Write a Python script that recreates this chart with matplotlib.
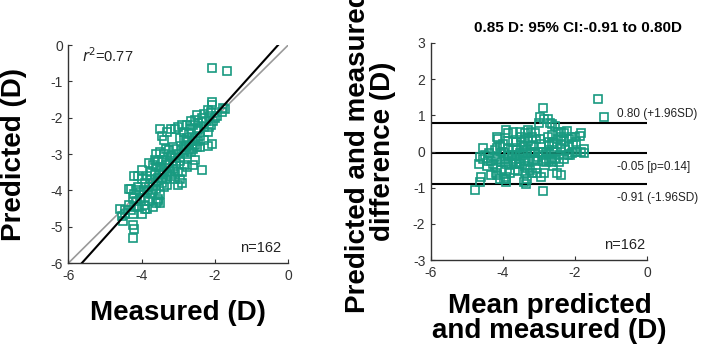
import numpy as np
import matplotlib
matplotlib.use("Agg")
import matplotlib.pyplot as plt

plt.rcParams['font.family'] = ['Liberation Sans', 'DejaVu Sans']
plt.rcParams['axes.unicode_minus'] = False

# measured / predicted refraction (D)
measured = [
    -2.08, -1.68, -2.08, -2.08, -1.78, -1.82, -1.72, -2.10, -2.20, -2.05,
    -2.15, -2.25, -2.30, -2.08, -2.20, -2.40, -2.50, -2.55, -2.45, -2.35,
    -2.60, -2.65, -2.75, -2.90, -2.85, -2.70, -2.55, -2.45, -2.50, -2.60,
    -2.70, -2.80, -2.95, -3.00, -3.10, -3.20, -3.30, -3.50, -3.45, -3.40,
    -2.35, -2.55, -2.60, -2.75, -2.85, -2.95, -3.05, -2.90, -2.90, -3.00,
    -3.10, -3.20, -3.25, -3.15, -3.00, -3.05, -3.15, -3.25, -3.35, -3.40,
    -3.50, -3.45, -3.55, -3.60, -3.70, -3.80, -3.50, -3.40, -3.35, -3.45,
    -3.55, -3.65, -3.75, -3.60, -3.80, -3.90, -4.00, -4.10, -4.00, -3.70,
    -3.75, -3.85, -3.95, -4.05, -4.15, -4.20, -4.30, -4.25, -4.15, -4.05,
    -3.90, -3.80, -3.70, -3.60, -3.55, -3.50, -3.55, -3.90, -4.00, -4.20,
    -4.30, -4.35, -4.45, -4.60, -4.55, -4.50, -4.45, -4.25, -4.25, -4.20,
    -4.25, -3.30, -3.25, -3.10, -2.95, -2.85, -2.75, -2.65, -2.55, -2.40,
    -2.30, -2.20, -2.10, -2.00, -1.95, -2.30, -2.15, -2.45, -2.60, -2.70,
    -2.80, -2.90, -3.00, -3.10, -2.95, -3.20, -3.30, -3.35, -3.45, -3.50,
    -3.65, -3.60, -3.75, -3.85, -3.70, -3.60, -3.50, -3.40, -3.30, -4.10,
    -4.20, -4.35, -3.95, -3.85, -4.10, -3.45, -3.55, -2.65, -2.50, -2.75,
    -2.85, -3.15,
]
predicted = [
    -0.62, -0.72, -1.57, -1.65, -1.72, -1.83, -1.75, -1.85, -1.80, -2.10,
    -2.25, -2.10, -2.25, -2.72, -2.78, -2.50, -1.92, -2.05, -2.15, -2.00,
    -2.20, -2.30, -2.20, -2.20, -2.40, -2.45, -2.55, -2.65, -2.80, -2.85,
    -2.75, -2.65, -2.55, -2.25, -2.30, -2.30, -2.40, -2.30, -2.50, -2.60,
    -3.45, -3.15, -3.30, -3.35, -3.30, -3.20, -3.25, -3.50, -3.80, -3.85,
    -3.70, -3.60, -3.50, -3.40, -3.00, -2.85, -2.80, -2.90, -2.85, -3.00,
    -2.95, -3.15, -3.20, -3.35, -3.30, -3.25, -3.35, -3.50, -3.70, -3.80,
    -3.65, -3.55, -3.70, -3.85, -3.90, -3.80, -3.70, -3.60, -3.45, -4.00,
    -4.10, -4.05, -4.00, -4.05, -4.00, -4.10, -3.95, -4.20, -4.30, -4.25,
    -4.20, -4.30, -4.45, -4.35, -4.30, -4.35, -4.25, -4.50, -4.65, -4.45,
    -4.55, -4.40, -4.55, -4.50, -4.70, -4.85, -4.65, -4.65, -4.95, -5.05,
    -5.30, -3.55, -3.25, -3.10, -3.10, -2.95, -3.00, -2.95, -2.75, -2.80,
    -2.60, -2.40, -2.20, -2.00, -1.95, -1.90, -1.95, -2.35, -2.60, -2.90,
    -2.80, -2.90, -3.50, -3.55, -3.70, -3.05, -3.15, -3.30, -3.45, -3.55,
    -3.15, -3.00, -3.50, -3.60, -3.80, -3.95, -4.10, -3.90, -3.85, -3.90,
    -3.60, -3.95, -4.40, -4.50, -4.45, -3.65, -3.75, -2.10, -2.30, -2.55,
    -2.60, -3.20,
]

# fitted line and limits of agreement
fit_slope = 1.12
fit_intercept = 0.31
r2 = 0.77
n_eyes = 162
bias = -0.05
p_bias = 0.14
loa_upper = 0.80
loa_lower = -0.91

teal = "#189a80"
axis_col = "#333333"

m = np.array(measured)
p = np.array(predicted)
ba_mean = (m + p) / 2
ba_diff = p - m


def style_axes(ax):
    for s in ["top", "right"]:
        ax.spines[s].set_visible(False)
    for s in ["left", "bottom"]:
        ax.spines[s].set_color(axis_col)
        ax.spines[s].set_linewidth(1.0)
    ax.tick_params(direction="in", length=3, width=0.8, colors=axis_col,
                   labelsize=10, pad=4)


fig = plt.figure(figsize=(7.04, 3.52), dpi=100)

# left: predicted vs measured
ax = fig.add_axes([0.0973, 0.2528, 0.312, 0.619])
xx = np.array([-6, 0])
ax.plot(xx, xx, color="#9a9a9a", lw=1.2, zorder=1)
ax.plot(xx, fit_slope * xx + fit_intercept, color="black", lw=1.5, zorder=3)
ax.plot(m, p, ls="none", marker="s", ms=5.2, mfc="none", mec=teal, mew=1.2,
        zorder=2)
ax.set_xlim(-6, 0)
ax.set_ylim(-6, 0)
ax.set_xticks([-6, -4, -2, 0])
ax.set_yticks(range(-6, 1))
style_axes(ax)
ax.text(0.06, 0.95, r"$r$" + "$^2$=%.2f" % r2, transform=ax.transAxes,
        fontsize=10.5, va="center", ha="left", color="#222222")
ax.text(0.97, 0.07, "n=%d" % n_eyes, transform=ax.transAxes, fontsize=10.5,
        ha="right", va="center", color="#222222")
ax.set_xlabel("Measured (D)", fontsize=20, fontweight="bold")
ax.set_ylabel("Predicted (D)", fontsize=20, fontweight="bold")
ax.xaxis.set_label_coords(0.5, -0.17)
ax.yaxis.set_label_coords(-0.19, 0.5)

# right: Bland-Altman
ax2 = fig.add_axes([0.612, 0.261, 0.307, 0.617])
for yv in [loa_upper, bias, loa_lower]:
    ax2.axhline(yv, color="black", lw=1.5, zorder=1)
ax2.plot(ba_mean, ba_diff, ls="none", marker="s", ms=5.2, mfc="none",
         mec=teal, mew=1.2, zorder=2)
ax2.set_xlim(-6, 0)
ax2.set_ylim(-3, 3)
ax2.set_xticks([-6, -4, -2, 0])
ax2.set_yticks(range(-3, 4))
style_axes(ax2)
ax2.text(-0.82, loa_upper + 0.07, "%.2f (+1.96SD)" % loa_upper, fontsize=8.5,
         va="bottom", ha="left", clip_on=False, color="#222222")
ax2.text(-0.82, bias - 0.2, "%.2f [p=%.2f]" % (bias, p_bias), fontsize=8.5,
         va="top", ha="left", clip_on=False, color="#222222")
ax2.text(-0.82, loa_lower - 0.2, "%.2f (-1.96SD)" % loa_lower, fontsize=8.5,
         va="top", ha="left", clip_on=False, color="#222222")
ax2.text(0.99, 0.07, "n=%d" % n_eyes, transform=ax2.transAxes, fontsize=10.5,
         ha="right", va="center", color="#222222")
ax2.text(0.68, 1.035, "0.85 D: 95%% CI:%.2f to %.2fD" % (loa_lower, loa_upper),
         transform=ax2.transAxes, fontsize=11, fontweight="bold",
         ha="center", va="bottom")
ax2.set_xlabel("Mean predicted\nand measured (D)", fontsize=20,
               fontweight="bold", linespacing=0.95)
ax2.set_ylabel("Predicted and measured\ndifference (D)", fontsize=20,
               fontweight="bold", linespacing=0.95)
ax2.xaxis.set_label_coords(0.55, -0.15)
ax2.yaxis.set_label_coords(-0.16, 0.5)

fig.savefig("out.png", dpi=100)
